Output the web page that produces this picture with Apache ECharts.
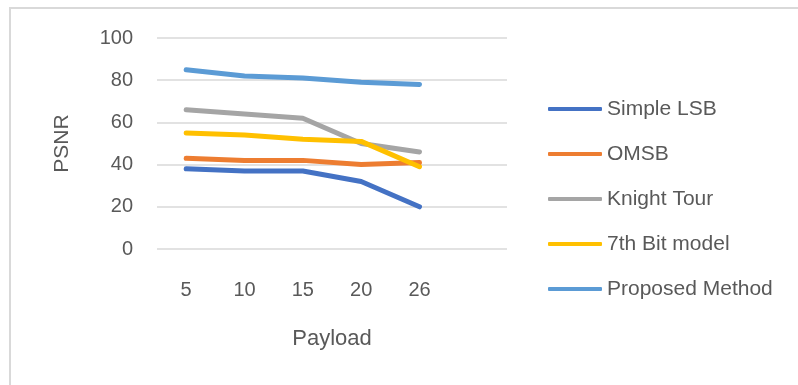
<!DOCTYPE html>
<html style="height: 100%">
<head>
  <meta charset="utf-8">
</head>
<body style="height: 100%; margin: 0">
  <div id="container" style="width: 798px; height: 385px"></div>

  <script type="text/javascript" src="https://cdn.jsdelivr.net/npm/echarts@6/dist/echarts.min.js"></script>
  <script type="text/javascript">
    // payload categories (last one is the empty slot Excel leaves)
    const payloads = ['5', '10', '15', '20', '26', ''];
    const yTicks = [0, 20, 40, 60, 80, 100];

    const simpleLSB = [38, 37, 37, 32, 20];
    const omsb = [43, 42, 42, 40, 41];
    const knightTour = [66, 64, 62, 50, 46];
    const bit7 = [55, 54, 52, 51, 39];
    const proposed = [85, 82, 81, 79, 78];

    const names = ['Simple LSB', 'OMSB', 'Knight Tour', '7th Bit model', 'Proposed Method'];
    const colors = ['#4472C4', '#ED7D31', '#A5A5A5', '#FFC000', '#5B9BD5'];
    const values = [simpleLSB, omsb, knightTour, bit7, proposed];

    const font = 'Liberation Sans';
    const grey = '#595959';

    var myChart = echarts.init(document.getElementById('container'));

    var option = {
      animation: false,
      textStyle: { fontFamily: font },
      graphic: [
        {
          type: 'rect',
          shape: { x: 10, y: 8, width: 820, height: 420 },
          style: { fill: 'none', stroke: '#D9D9D9', lineWidth: 2 },
          silent: true
        }
      ],
      grid: { left: 157, right: 291, top: 38, bottom: 136 },
      legend: {
        orient: 'vertical',
        left: 543,
        top: 92,
        itemWidth: 54,
        itemHeight: 4,
        itemGap: 21,
        icon: 'roundRect',
        textStyle: { color: grey, fontSize: 21, lineHeight: 24, fontFamily: font },
        data: names
      },
      xAxis: {
        type: 'category',
        data: payloads,
        boundaryGap: true,
        name: 'Payload',
        nameLocation: 'middle',
        nameGap: 79,
        nameTextStyle: { color: grey, fontSize: 22, fontFamily: font },
        axisLine: { show: false },
        axisTick: { show: false },
        axisLabel: { color: grey, fontSize: 20, margin: 31, fontFamily: font }
      },
      yAxis: {
        type: 'value',
        min: yTicks[0],
        max: yTicks[yTicks.length - 1],
        interval: yTicks[1] - yTicks[0],
        name: 'PSNR',
        nameLocation: 'middle',
        nameGap: 84,
        nameTextStyle: { color: grey, fontSize: 21, fontFamily: font },
        axisLabel: { color: grey, fontSize: 20, margin: 24, fontFamily: font },
        splitLine: { lineStyle: { color: '#D9D9D9', width: 1.5 } }
      },
      series: names.map((n, i) => ({
        name: n,
        type: 'line',
        data: values[i],
        symbol: 'none',
        color: colors[i],
        lineStyle: { width: 5, cap: 'round', join: 'round' }
      }))
    };

    myChart.setOption(option);
    window.addEventListener('resize', myChart.resize);
  </script>
</body>
</html>
